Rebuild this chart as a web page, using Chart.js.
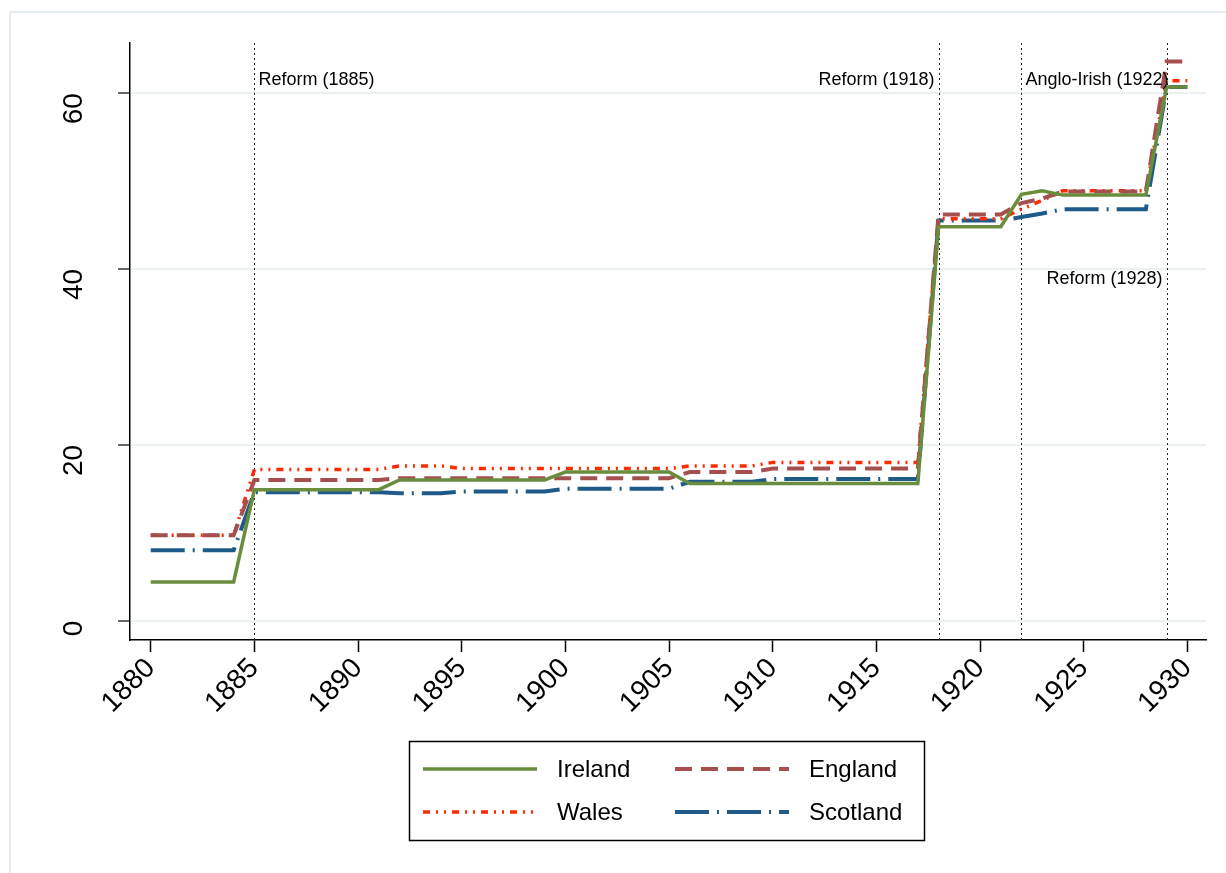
<!DOCTYPE html>
<html>
<head>
<meta charset="utf-8">
<script src="https://cdn.jsdelivr.net/npm/chart.js@4.4.1/dist/chart.umd.min.js"></script>
<style>
  body { margin: 0; background: #fff; }
  #wrap { position: relative; width: 1226px; height: 873px; }
</style>
</head>
<body>
<div id="wrap"><canvas id="seatsChart" width="1226" height="873"></canvas></div>
<script>
// years 1880..1930, one value per year
const years = [];
for (let y = 1880; y <= 1930; y++) years.push(y);

// values
const ireland = [
  4.4, 4.4, 4.4, 4.4, 4.4,
  14.9, 14.9, 14.9, 14.9, 14.9, 14.9, 14.9,
  16.0, 16.0, 16.0, 16.0, 16.0, 16.0, 16.0, 16.0,
  16.9, 16.9, 16.9, 16.9, 16.9, 16.9,
  15.6, 15.6, 15.6, 15.6, 15.6, 15.6, 15.6, 15.6, 15.6, 15.6, 15.6, 15.6,
  44.8, 44.8, 44.8, 44.8,
  48.5, 48.9,
  48.4, 48.4, 48.4, 48.4, 48.4,
  60.7, 60.7
];
const england = [
  9.7, 9.7, 9.7, 9.7, 9.7,
  16.0, 16.0, 16.0, 16.0, 16.0, 16.0, 16.0,
  16.2, 16.2, 16.2, 16.2, 16.2, 16.2, 16.2, 16.2, 16.2, 16.2, 16.2, 16.2, 16.2, 16.2,
  16.9, 16.9, 16.9, 16.9,
  17.3, 17.3, 17.3, 17.3, 17.3, 17.3, 17.3, 17.3,
  46.2, 46.2, 46.2, 46.2,
  47.5, 48.0,
  48.8, 48.8, 48.8, 48.8, 48.8,
  63.6, 63.6
];
const wales = [
  9.7, 9.7, 9.7, 9.7, 9.7,
  17.2, 17.2, 17.2, 17.2, 17.2, 17.2, 17.2,
  17.6, 17.6, 17.6,
  17.3, 17.3, 17.3, 17.3, 17.3, 17.3, 17.3, 17.3, 17.3, 17.3, 17.3,
  17.6, 17.6, 17.6, 17.6,
  18.0, 18.0, 18.0, 18.0, 18.0, 18.0, 18.0, 18.0,
  45.7, 45.7, 45.7, 45.7,
  46.8, 47.8,
  48.9, 48.9, 48.9, 48.9, 48.9,
  61.4, 61.4
];
const scotland = [
  8.0, 8.0, 8.0, 8.0, 8.0,
  14.6, 14.6, 14.6, 14.6, 14.6, 14.6, 14.6,
  14.5, 14.5, 14.5,
  14.7, 14.7, 14.7, 14.7, 14.7,
  15.0, 15.0, 15.0, 15.0, 15.0, 15.0,
  15.8, 15.8, 15.8, 15.8,
  16.1, 16.1, 16.1, 16.1, 16.1, 16.1, 16.1, 16.1,
  45.5, 45.5, 45.5, 45.5,
  45.9, 46.3,
  46.8, 46.8, 46.8, 46.8, 46.8,
  60.7, 60.7
];

const xTicks = [1880, 1885, 1890, 1895, 1900, 1905, 1910, 1915, 1920, 1925, 1930];
const yTicks = [0, 20, 40, 60];

// reform markers
const markYears = [1885, 1918, 1922, 1929];
const markLabels = ['Reform (1885)', 'Reform (1918)', 'Anglo-Irish (1922)', 'Reform (1928)'];
const markSide = ['right', 'left', 'right', 'left'];
const markLevel = [61.5, 61.5, 61.5, 38.8];

const pts = vals => vals.map((v, i) => ({ x: years[i], y: v }));
const FONT = '"Liberation Sans", Arial, sans-serif';

// vertical dotted lines + their labels
const markers = {
  id: 'markers',
  beforeDatasetsDraw(chart) {
    const { ctx, chartArea, scales } = chart;
    ctx.save();
    ctx.strokeStyle = '#222';
    ctx.lineWidth = 1;
    ctx.setLineDash([2, 3]);
    markYears.forEach(yr => {
      const x = Math.round(scales.x.getPixelForValue(yr)) + 0.5;
      ctx.beginPath();
      ctx.moveTo(x, chartArea.top);
      ctx.lineTo(x, chartArea.bottom);
      ctx.stroke();
    });
    ctx.restore();
  },
  afterDatasetsDraw(chart) {
    const { ctx, scales } = chart;
    ctx.save();
    ctx.font = '18px ' + FONT;
    ctx.fillStyle = '#000';
    ctx.textBaseline = 'middle';
    markYears.forEach((yr, i) => {
      const x = scales.x.getPixelForValue(yr);
      const y = scales.y.getPixelForValue(markLevel[i]);
      if (markSide[i] === 'right') {
        ctx.textAlign = 'left';
        ctx.fillText(markLabels[i], x + 4, y);
      } else {
        ctx.textAlign = 'right';
        ctx.fillText(markLabels[i], x - 4, y);
      }
    });
    ctx.restore();
  }
};

// outer frame and boxed two-column legend
const boxLegend = {
  id: 'boxLegend',
  beforeDraw(chart) {
    const ctx = chart.ctx;
    ctx.save();
    ctx.strokeStyle = '#e6edf0';
    ctx.lineWidth = 2;
    ctx.strokeRect(10, 12, 1400, 1000);
    ctx.restore();
  },
  afterDraw(chart) {
    const ctx = chart.ctx;
    const bx = 409, by = 741, bw = 515, bh = 99;
    ctx.save();
    ctx.strokeStyle = '#000';
    ctx.lineWidth = 1.5;
    ctx.strokeRect(bx + 0.5, by + 0.5, bw, bh);
    ctx.font = '24px ' + FONT;
    ctx.textBaseline = 'middle';
    ctx.textAlign = 'left';
    chart.data.datasets.forEach((ds, i) => {
      const col = i % 2, row = Math.floor(i / 2);
      const sx = bx + 14 + col * 252;
      const sy = by + 28 + row * 43;
      ctx.strokeStyle = ds.borderColor;
      ctx.lineWidth = ds.borderWidth;
      ctx.setLineDash(ds.borderDash || []);
      ctx.beginPath();
      ctx.moveTo(sx, sy);
      ctx.lineTo(sx + 114, sy);
      ctx.stroke();
      ctx.setLineDash([]);
      ctx.fillStyle = '#000';
      ctx.fillText(ds.label, sx + 134, sy + 1);
    });
    ctx.restore();
  }
};

const ctx = document.getElementById('seatsChart').getContext('2d');
const seatsChart = new Chart(ctx, {
  type: 'line',
  data: {
    datasets: [
      { label: 'Ireland', data: pts(ireland), borderColor: '#6a8d3d', borderWidth: 3.5, borderDash: [] },
      { label: 'England', data: pts(england), borderColor: '#a54f4f', borderWidth: 4, borderDash: [17, 9] },
      { label: 'Wales', data: pts(wales), borderColor: '#ff2a00', borderWidth: 3.5, borderDash: [7, 6, 2, 6, 2, 6] },
      { label: 'Scotland', data: pts(scotland), borderColor: '#1f5b88', borderWidth: 4, borderDash: [34, 8, 2, 8] }
    ]
  },
  options: {
    responsive: false,
    animation: false,
    elements: {
      point: { radius: 0 },
      line: { tension: 0, fill: false }
    },
    layout: { padding: { top: 43, right: 20, left: 0, bottom: 0 } },
    scales: {
      x: {
        type: 'linear',
        min: 1879,
        max: 1930.9,
        afterBuildTicks: s => { s.ticks = xTicks.map(v => ({ value: v })); },
        afterFit: s => { s.height = 233; },
        border: { display: true, color: '#000', width: 1.5 },
        grid: { drawOnChartArea: false, drawTicks: true, tickLength: 12, tickColor: '#000', tickWidth: 1.5 },
        ticks: {
          minRotation: 45, maxRotation: 45, padding: 0,
          color: '#000', font: { family: FONT, size: 28 },
          callback: v => String(v)
        }
      },
      y: {
        min: -2.2,
        max: 65.7,
        afterBuildTicks: s => { s.ticks = yTicks.map(v => ({ value: v })); },
        afterFit: s => { s.width = 130; s.paddingTop = 0; s.paddingBottom = 0; },
        border: { display: true, color: '#000', width: 1.5 },
        grid: { color: '#eaf1f3', lineWidth: 2, drawTicks: true, tickLength: 12, tickColor: '#333', tickWidth: 1.5 },
        ticks: {
          minRotation: 90, maxRotation: 90, padding: 44,
          color: '#000', font: { family: FONT, size: 28 },
          callback: v => String(v)
        }
      }
    },
    plugins: {
      legend: { display: false },
      tooltip: { enabled: false }
    }
  },
  plugins: [markers, boxLegend]
});
</script>
</body>
</html>
